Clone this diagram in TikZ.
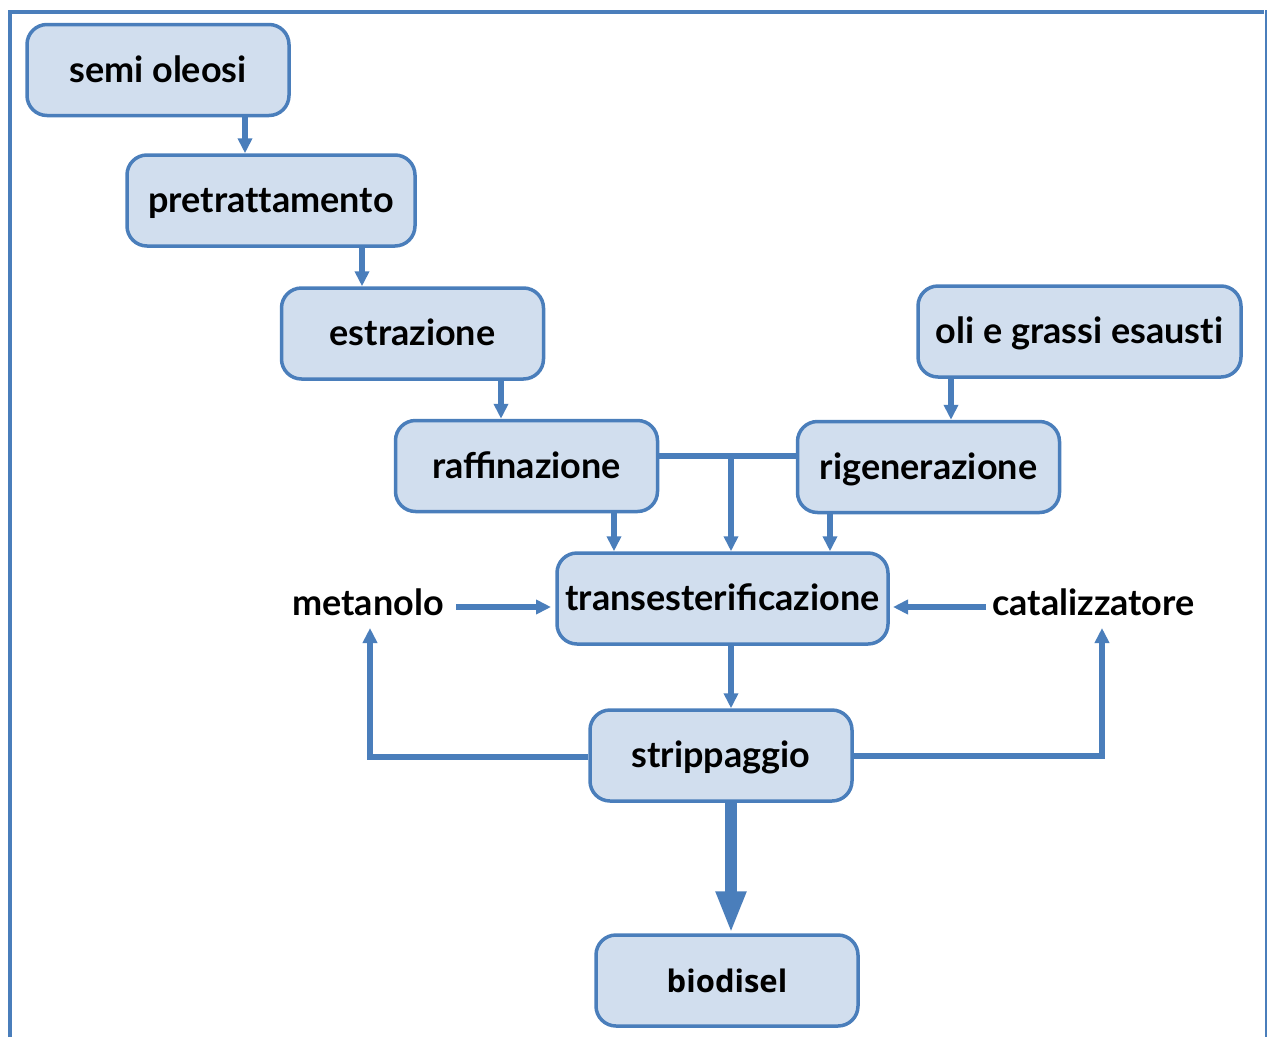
\documentclass[tikz,border=0pt]{standalone}
\usepackage{fontspec}
\setmainfont{Lato}
\newfontfamily\outfont{Open Sans}[BoldFont={Open Sans Bold}]
\usetikzlibrary{arrows.meta}
\definecolor{flowblue}{RGB}{74,126,187}
\definecolor{boxfill}{RGB}{209,222,238}
\begin{document}
\begin{tikzpicture}[x=1pt,y=-1pt,
  box/.style={draw=flowblue, fill=boxfill, line width=3.5pt, rounded corners=20pt,
    minimum width=262pt, minimum height=91pt, inner sep=0pt,
    text height=26pt, text depth=2pt,
    font=\fontsize{36}{42}\selectfont\bfseries},
  lbl/.style={inner sep=0pt, text height=26pt, text depth=2pt,
    font=\fontsize{36}{42}\selectfont\bfseries},
  flow/.style={draw=flowblue, line width=5.5pt, -{Triangle[width=14pt,length=15pt]}},
  bigflow/.style={draw=flowblue, line width=12pt, -{Triangle[width=28pt,length=42pt]}},
  link/.style={draw=flowblue, line width=6pt}]
\useasboundingbox (0,0) rectangle (1267,1037);
% outer frame, open at the bottom
\draw[flowblue, line width=4pt] (9.5,1037) -- (9.5,11.5) -- (1264,11.5);
\draw[flowblue, line width=2pt] (1265.5,10) -- (1265.5,1037);

% process steps
\node[box] (semi) at (158,70) {semi oleosi};
\node[box, minimum width=288pt] (pretr) at (271,200.5) {pretrat\kern0pt tamento};
\node[box] (estr) at (412.5,333.5) {estrazione};
\node[box] (raff) at (526.5,466) {raffinazione};
\node[box, minimum width=323pt] (oli) at (1079.5,331.5) {oli e grassi esaust\kern0pt i};
\node[box] (rigen) at (928.5,467) {rigenerazione};
\node[box, minimum width=331pt] (trans) at (722.5,598.5) {transesterificazione};
\node[box] (strip) at (721,755.5) {strippaggio};
\node[box, font=\outfont\fontsize{31}{38}\selectfont\bfseries] (bio) at (727,980.5) {biodisel};

\node[lbl] (metanolo) at (368,603) {metanolo};
\node[lbl] (catal) at (1093.5,603) {catalizzatore};

% main chain
\draw[flow] ([xshift=87pt]semi.south) -- ([xshift=87pt]semi.south |- pretr.north);
\draw[flow] ([xshift=91pt]pretr.south) -- ([xshift=91pt]pretr.south |- estr.north);
\draw[flow] ([xshift=88.5pt]estr.south) -- ([xshift=88.5pt]estr.south |- raff.north);
\draw[flow] ([xshift=-128.5pt]oli.south) -- ([xshift=-128.5pt]oli.south |- rigen.north);
\draw[flow] ([xshift=87.5pt]raff.south) -- ([xshift=87.5pt]raff.south |- trans.north);
\draw[flow] ([xshift=-98.5pt]rigen.south) -- ([xshift=-98.5pt]rigen.south |- trans.north);

% joint feed from both oil lines
\draw[link] ([yshift=10pt]raff.east) -- ([yshift=10pt]raff.east -| rigen.west);
\coordinate (jn) at (731,456);
\draw[flow] (jn) -- (jn |- trans.north);

% reagents into the reactor
\coordinate (mIn) at (551,607);
\coordinate (cIn) at (893,607);
\draw[flow] (456,607) -- (mIn);
\draw[flow] (986,607) -- (cIn);

\draw[flow] ([xshift=8.5pt]trans.south) -- ([xshift=8.5pt]trans.south |- strip.north);

% recovered reagents
\coordinate (mUp) at (370,628);
\coordinate (cUp) at (1102,628);
\draw[flow] ([yshift=-1.5pt]strip.west) -| (mUp);
\draw[flow] ([yshift=-0.5pt]strip.east) -| (cUp);

% product
\draw[bigflow] ([xshift=10pt]strip.south) -- ([xshift=10pt]strip.south |- bio.north);
\end{tikzpicture}
\end{document}
